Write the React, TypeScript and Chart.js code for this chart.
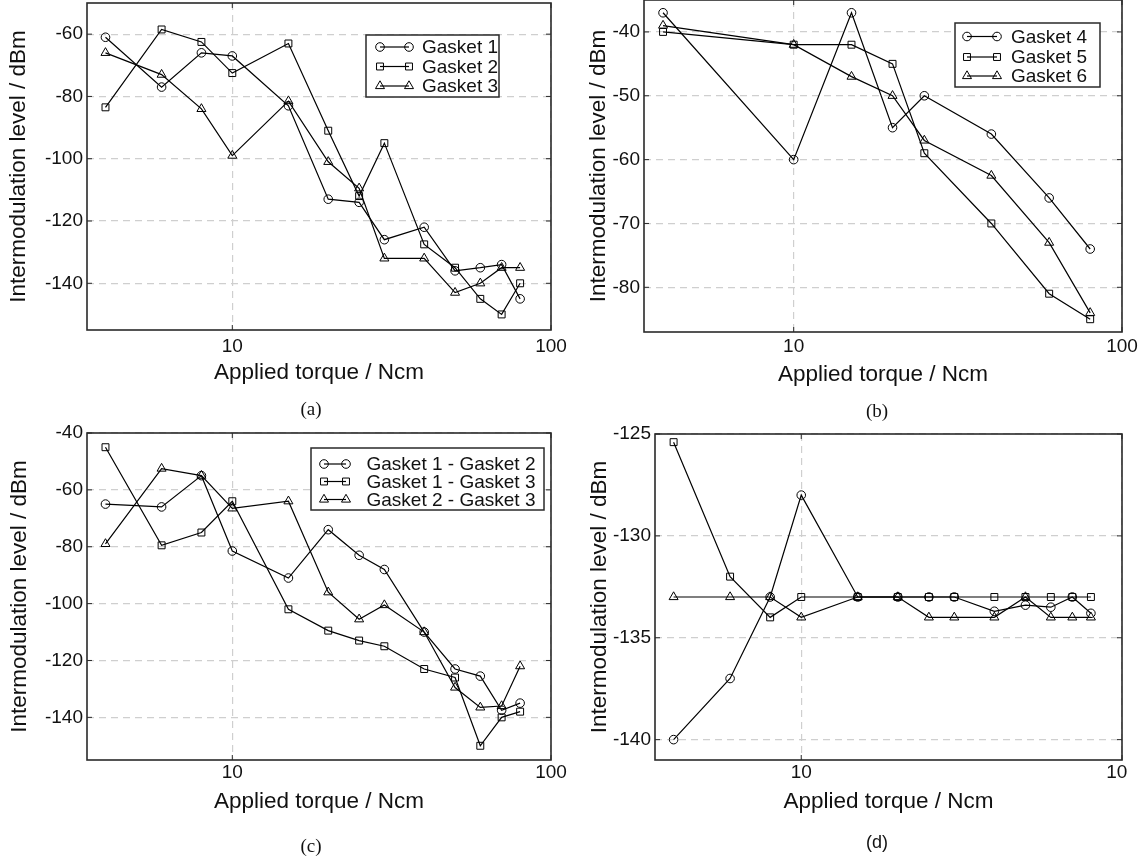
import React, { useEffect, useRef } from 'react';
import { Chart, registerables } from 'chart.js';

Chart.register(...registerables);

const SANS = '"Liberation Sans", Arial, Helvetica, sans-serif';
const SERIF = '"Liberation Serif", "Times New Roman", serif';
const TEXT = '#111';
const GRID = '#cfcfcf';
const FRAME = '#2a2a2a';

// ---------- data ----------
const X_TORQUE = [4, 6, 8, 10, 15, 20, 25, 30, 40, 50, 60, 70, 80];
const X_TORQUE_B = [4, 10, 15, 20, 25, 40, 60, 80];

const GASKET_1 = [-61, -77, -66, -67, -83, -113, -114, -126, -122, -136, -135, -134, -145];
const GASKET_2 = [-83.5, -58.5, -62.5, -72.5, -63, -91, -112, -95, -127.5, -135, -145, -150, -140];
const GASKET_3 = [-66, -73, -84, -99, -81.5, -101, -109.5, -132, -132, -143, -140, -135, -135];

const GASKET_4 = [-37, -60, -37, -55, -50, -56, -66, -74];
const GASKET_5 = [-40, -42, -42, -45, -59, -70, -81, -85];
const GASKET_6 = [-39, -42, -47, -50, -57, -62.5, -73, -84];

const G1_G2 = [-65, -66, -55, -81.5, -91, -74, -83, -88, -110, -123, -125.5, -137.5, -135];
const G1_G3 = [-45, -79.5, -75, -64, -102, -109.5, -113, -115, -123, -126, -150, -140, -138];
const G2_G3 = [-79, -52.5, -55, -66.5, -64, -96, -105.5, -100.5, -110, -129.5, -136.5, -136, -122];

const D_CIRCLE = [-140, -137, -133, -128, -133, -133, -133, -133, -133.7, -133.4, -133.5, -133, -133.8];
const D_SQUARE = [-125.4, -132, -134, -133, -133, -133, -133, -133, -133, -133, -133, -133, -133];
const D_TRIANGLE = [-133, -133, -133, -134, -133, -133, -134, -134, -134, -133, -134, -134, -134];

const X_TICKS = [4, 5, 6, 7, 8, 9, 10, 20, 30, 40, 50, 60, 70, 80, 90, 100];
const X_LABELS = [10, 100];

const Y_TICKS_A = [-150, -140, -130, -120, -110, -100, -90, -80, -70, -60, -50];
const Y_LABELS_A = [-140, -120, -100, -80, -60];
const Y_TICKS_B = [-85, -80, -75, -70, -65, -60, -55, -50, -45, -40, -35];
const Y_LABELS_B = [-80, -70, -60, -50, -40];
const Y_TICKS_C = [-150, -140, -130, -120, -110, -100, -90, -80, -70, -60, -50, -40];
const Y_LABELS_C = [-140, -120, -100, -80, -60, -40];
const Y_TICKS_D = [-140, -137.5, -135, -132.5, -130, -127.5, -125];
const Y_LABELS_D = [-140, -135, -130, -125];

const X_TITLE = 'Applied torque / Ncm';
const Y_TITLE = 'Intermodulation level / dBm';

// ---------- helpers ----------
const R = { circle: 4.3, rect: 4.9, triangle: 5.2 } as Record<string, number>;

function marker(ctx: CanvasRenderingContext2D, style: string, x: number, y: number) {
  const r = R[style];
  ctx.beginPath();
  if (style === 'circle') {
    ctx.arc(x, y, r, 0, Math.PI * 2);
  } else if (style === 'rect') {
    const h = r * Math.SQRT1_2;
    ctx.rect(x - h, y - h, 2 * h, 2 * h);
  } else {
    ctx.moveTo(x, y - r);
    ctx.lineTo(x + 0.866 * r, y + 0.5 * r);
    ctx.lineTo(x - 0.866 * r, y + 0.5 * r);
    ctx.closePath();
  }
  ctx.stroke();
}

const framePlugin = {
  id: 'frame',
  afterDatasetsDraw(chart: any) {
    const { ctx, chartArea: a, scales } = chart;
    const TL = 5;
    ctx.save();
    ctx.strokeStyle = FRAME;
    ctx.lineWidth = 1;
    ctx.beginPath();
    for (const t of scales.x.ticks) {
      const px = scales.x.getPixelForValue(t.value);
      if (px < a.left - 0.5 || px > a.right + 0.5) continue;
      ctx.moveTo(px, a.bottom);
      ctx.lineTo(px, a.bottom - TL);
      ctx.moveTo(px, a.top);
      ctx.lineTo(px, a.top + TL);
    }
    for (const t of scales.y.ticks) {
      const py = scales.y.getPixelForValue(t.value);
      if (py < a.top - 0.5 || py > a.bottom + 0.5) continue;
      ctx.moveTo(a.left, py);
      ctx.lineTo(a.left + TL, py);
      ctx.moveTo(a.right, py);
      ctx.lineTo(a.right - TL, py);
    }
    ctx.stroke();
    ctx.lineWidth = 1.6;
    ctx.strokeRect(a.left, a.top, a.right - a.left, a.bottom - a.top);
    ctx.restore();
  },
};

const legendPlugin = {
  id: 'glegend',
  afterDraw(chart: any, _args: any, opts: any) {
    if (!opts || !opts.box) return;
    const { ctx } = chart;
    const ox = opts.ox, oy = opts.oy;
    const b = opts.box;
    ctx.save();
    ctx.fillStyle = '#fff';
    ctx.fillRect(b.l - ox, b.t - oy, b.r - b.l, b.b - b.t);
    ctx.strokeStyle = FRAME;
    ctx.lineWidth = 1.5;
    ctx.strokeRect(b.l - ox, b.t - oy, b.r - b.l, b.b - b.t);
    chart.data.datasets.forEach((ds: any, i: number) => {
      const y = opts.rows[i] - oy;
      const x1 = opts.m1 - ox, x2 = opts.m2 - ox;
      ctx.strokeStyle = '#000';
      ctx.lineWidth = 1.2;
      ctx.beginPath();
      ctx.moveTo(x1, y);
      ctx.lineTo(x2, y);
      ctx.stroke();
      ctx.lineWidth = 1;
      marker(ctx, ds.pointStyle, x1, y);
      marker(ctx, ds.pointStyle, x2, y);
      ctx.fillStyle = TEXT;
      ctx.font = `19px ${SANS}`;
      ctx.textBaseline = 'middle';
      ctx.textAlign = 'left';
      ctx.fillText(ds.label, opts.tx - ox, y + 1);
    });
    ctx.restore();
  },
};

type Series = { label: string; y: number[]; style: string };
type PanelCfg = {
  canvas: { x: number; y: number; w: number; h: number };
  area: { l: number; t: number; r: number; b: number };
  clipW?: number;
  x: number[];
  series: Series[];
  yMin: number;
  yMax: number;
  yTicks: number[];
  yLabels: number[];
  xTickPad: number;
  yTitleCenter: number;
  legend?: { box: { l: number; t: number; r: number; b: number }; rows: number[]; m1: number; m2: number; tx: number };
};

const PANEL_A: PanelCfg = {
  canvas: { x: 0, y: -20, w: 575, h: 406 },
  area: { l: 87, t: 3, r: 551, b: 330 },
  x: X_TORQUE,
  series: [
    { label: 'Gasket 1', y: GASKET_1, style: 'circle' },
    { label: 'Gasket 2', y: GASKET_2, style: 'rect' },
    { label: 'Gasket 3', y: GASKET_3, style: 'triangle' },
  ],
  yMin: -155, yMax: -50, yTicks: Y_TICKS_A, yLabels: Y_LABELS_A,
  xTickPad: 5, yTitleCenter: 19,
  legend: { box: { l: 366, t: 35, r: 499, b: 97 }, rows: [47, 66.5, 86], m1: 380, m2: 409, tx: 422 },
};

const PANEL_B: PanelCfg = {
  canvas: { x: 575, y: -20, w: 571, h: 408 },
  area: { l: 644, t: 0, r: 1122, b: 332 },
  x: X_TORQUE_B,
  series: [
    { label: 'Gasket 4', y: GASKET_4, style: 'circle' },
    { label: 'Gasket 5', y: GASKET_5, style: 'rect' },
    { label: 'Gasket 6', y: GASKET_6, style: 'triangle' },
  ],
  yMin: -87, yMax: -35, yTicks: Y_TICKS_B, yLabels: Y_LABELS_B,
  xTickPad: 3.5, yTitleCenter: 599,
  legend: { box: { l: 955, t: 23, r: 1100, b: 87 }, rows: [36.5, 57, 76], m1: 967, m2: 997, tx: 1011 },
};

const PANEL_C: PanelCfg = {
  canvas: { x: 0, y: 410, w: 575, h: 405 },
  area: { l: 87, t: 433, r: 551, b: 760 },
  x: X_TORQUE,
  series: [
    { label: 'Gasket 1 - Gasket 2', y: G1_G2, style: 'circle' },
    { label: 'Gasket 1 - Gasket 3', y: G1_G3, style: 'rect' },
    { label: 'Gasket 2 - Gasket 3', y: G2_G3, style: 'triangle' },
  ],
  yMin: -155, yMax: -40, yTicks: Y_TICKS_C, yLabels: Y_LABELS_C,
  xTickPad: 1, yTitleCenter: 20,
  legend: { box: { l: 311, t: 448, r: 544, b: 510 }, rows: [464, 481.5, 499.5], m1: 324, m2: 346, tx: 366.5 },
};

const PANEL_D: PanelCfg = {
  canvas: { x: 575, y: 410, w: 571, h: 405 },
  area: { l: 655, t: 434, r: 1122, b: 760 },
  clipW: 552,
  x: X_TORQUE,
  series: [
    { label: 'Gasket 1 - Gasket 2', y: D_CIRCLE, style: 'circle' },
    { label: 'Gasket 1 - Gasket 3', y: D_SQUARE, style: 'rect' },
    { label: 'Gasket 2 - Gasket 3', y: D_TRIANGLE, style: 'triangle' },
  ],
  yMin: -141, yMax: -125, yTicks: Y_TICKS_D, yLabels: Y_LABELS_D,
  xTickPad: 1, yTitleCenter: 600,
};

function Panel({ cfg }: { cfg: PanelCfg }) {
  const ref = useRef<HTMLCanvasElement>(null);
  useEffect(() => {
    const c = cfg;
    const canvas = ref.current!;
    const chart = new Chart(canvas, {
      type: 'line',
      data: {
        datasets: c.series.map((s) => ({
          label: s.label,
          data: c.x.map((x, i) => ({ x, y: s.y[i] })),
          borderColor: '#000',
          borderWidth: 1.2,
          pointStyle: s.style as any,
          pointRadius: R[s.style],
          pointHoverRadius: R[s.style],
          pointBorderWidth: 1,
          pointBorderColor: '#000',
          pointBackgroundColor: 'rgba(0,0,0,0)',
          fill: false,
          tension: 0,
        })),
      },
      options: {
        responsive: false,
        animation: false,
        devicePixelRatio: 1,
        events: [],
        layout: {
          padding: {
            left: 0,
            top: c.area.t - c.canvas.y,
            right: c.canvas.x + c.canvas.w - c.area.r,
            bottom: 0,
          },
        },
        plugins: {
          legend: { display: false },
          tooltip: { enabled: false },
          title: { display: false },
          glegend: c.legend ? { ...c.legend, ox: c.canvas.x, oy: c.canvas.y } : {},
        } as any,
        scales: {
          x: {
            type: 'logarithmic',
            position: 'bottom',
            min: 3.5,
            max: 100,
            afterBuildTicks: (s: any) => {
              s.ticks = X_TICKS.map((v) => ({ value: v }));
            },
            afterFit: (s: any) => {
              s.height = c.canvas.y + c.canvas.h - c.area.b;
            },
            ticks: {
              autoSkip: false,
              maxRotation: 0,
              minRotation: 0,
              padding: c.xTickPad,
              color: TEXT,
              font: { family: SANS, size: 19 },
              callback: (v: any) => (X_LABELS.includes(Number(v)) ? String(v) : null),
            },
            grid: {
              drawTicks: false,
              lineWidth: 1.2,
              color: (ctx: any) => (ctx.tick && X_LABELS.includes(ctx.tick.value) ? GRID : 'rgba(0,0,0,0)'),
            },
            border: { display: false, dash: [7, 5] },
            title: {
              display: true,
              text: X_TITLE,
              color: TEXT,
              font: { family: SANS, size: 22.5 },
              padding: { top: 0, bottom: 0 },
            },
          },
          y: {
            type: 'linear',
            position: 'left',
            min: c.yMin,
            max: c.yMax,
            afterBuildTicks: (s: any) => {
              s.ticks = c.yTicks.map((v) => ({ value: v }));
            },
            afterFit: (s: any) => {
              s.width = c.area.l - c.canvas.x;
            },
            ticks: {
              autoSkip: false,
              padding: 4,
              color: TEXT,
              font: { family: SANS, size: 19 },
              callback: (v: any) => (c.yLabels.includes(Number(v)) ? String(v) : null),
            },
            grid: {
              drawTicks: false,
              lineWidth: 1.2,
              color: (ctx: any) => (ctx.tick && c.yLabels.includes(ctx.tick.value) ? GRID : 'rgba(0,0,0,0)'),
            },
            border: { display: false, dash: [7, 5] },
            title: {
              display: true,
              text: Y_TITLE,
              color: TEXT,
              font: { family: SANS, size: 22.5 },
              padding: { top: c.yTitleCenter - c.canvas.x - 13.5, bottom: 0 },
            },
          },
        },
      } as any,
      plugins: [framePlugin, legendPlugin],
    });
    return () => chart.destroy();
  }, [cfg]);

  const canvasEl = (
    <canvas
      ref={ref}
      width={cfg.canvas.w}
      height={cfg.canvas.h}
      style={{
        position: 'absolute',
        left: cfg.clipW ? 0 : cfg.canvas.x,
        top: cfg.clipW ? 0 : cfg.canvas.y,
        width: cfg.canvas.w,
        height: cfg.canvas.h,
      }}
    />
  );
  if (cfg.clipW) {
    return (
      <div
        style={{
          position: 'absolute',
          left: cfg.canvas.x,
          top: cfg.canvas.y,
          width: cfg.clipW,
          height: cfg.canvas.h,
          overflow: 'hidden',
        }}
      >
        {canvasEl}
      </div>
    );
  }
  return canvasEl;
}

const CAPTIONS = [
  { text: '(a)', x: 311, y: 408, serif: true },
  { text: '(b)', x: 877, y: 410, serif: true },
  { text: '(c)', x: 311, y: 845, serif: true },
  { text: '(d)', x: 877, y: 842, serif: false },
];

export default function App() {
  return (
    <div
      style={{
        position: 'fixed',
        left: 0,
        top: 0,
        width: 1146,
        height: 858,
        overflow: 'hidden',
        background: '#fff',
      }}
    >
      <Panel cfg={PANEL_A} />
      <Panel cfg={PANEL_B} />
      <Panel cfg={PANEL_C} />
      <Panel cfg={PANEL_D} />
      {CAPTIONS.map((c) => (
        <div
          key={c.text}
          style={{
            position: 'absolute',
            left: c.x,
            top: c.y,
            transform: 'translate(-50%, -50%)',
            fontFamily: c.serif ? SERIF : SANS,
            fontSize: c.serif ? 19 : 18,
            color: TEXT,
            lineHeight: 1,
            whiteSpace: 'nowrap',
          }}
        >
          {c.text}
        </div>
      ))}
    </div>
  );
}
